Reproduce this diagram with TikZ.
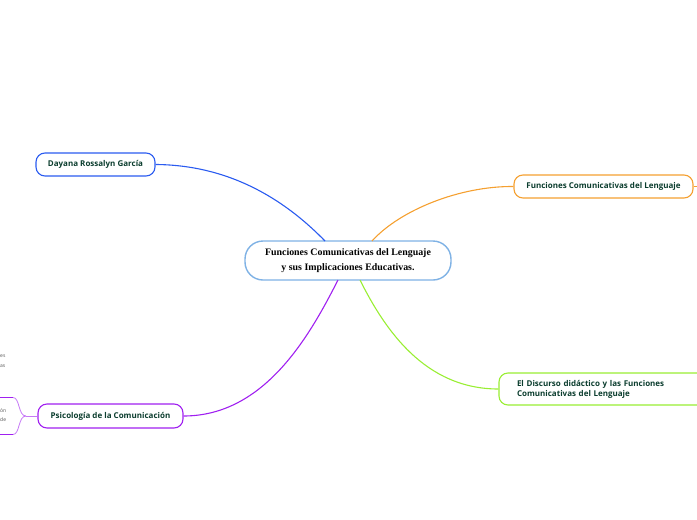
\documentclass[tikz,border=0pt]{standalone}
\usepackage{fontspec}
\setmainfont{Liberation Serif}
\newfontfamily\topicfont{Open Sans}
\definecolor{txt}{HTML}{0B3D2E}
\definecolor{cblue}{HTML}{2A5BF0}
\definecolor{corange}{HTML}{F5A030}
\definecolor{cgreen}{HTML}{99EE33}
\definecolor{cpurple}{HTML}{A020F0}
\definecolor{ccenter}{HTML}{7FB2E5}
\definecolor{cgray}{HTML}{555555}
\begin{document}
\begin{tikzpicture}[x=1pt,y=-1pt,
  topic/.style={draw, line width=1.1pt, rounded corners=9pt, fill=white, inner sep=0pt,
    font=\topicfont\bfseries\fontsize{8}{10}\selectfont, text=txt, align=left},
  conn/.style={line width=1.1pt},
  tinytext/.style={font=\topicfont\fontsize{5}{5}\selectfont, text=cgray, inner sep=0pt, anchor=west}]
\useasboundingbox (0,0) rectangle (697,520);
\clip (0,0) rectangle (697,520);
% nodes
\node[draw=ccenter, line width=1.4pt, rounded corners=18pt, fill=white, minimum width=206pt, minimum height=39pt,
  font=\bfseries\fontsize{9.9}{15}\selectfont, align=center] (center) at (348,260.5)
  {Funciones Comunicativas del Lenguaje\\y sus Implicaciones Educativas.};
\node[topic, draw=cblue, minimum width=119pt, minimum height=23pt] (dayana) at (95.5,164.5) {Dayana Rossalyn García};
\node[topic, draw=corange, minimum width=179pt, minimum height=23pt] (func) at (603.5,186.5) {Funciones Comunicativas del Lenguaje};
\node[topic, draw=cgreen, minimum width=240pt, minimum height=32pt, text width=204pt] (disc) at (619,389)
  {El Discurso didáctico y las Funciones\\Comunicativas del Lenguaje};
\node[topic, draw=cpurple, minimum width=145pt, minimum height=24pt] (psico) at (110.5,416) {Psicología de la Comunicación};
% connectors
\draw[conn, cblue] (dayana.east) .. controls (235,165) and (290,205) .. (325,241);
\draw[conn, corange] (func.west) .. controls (460,186) and (400,210) .. (372,241);
\draw[conn, cgreen] (disc.west) .. controls (425,389) and (385,330) .. (360,280);
\draw[conn, cpurple] (psico.east) .. controls (265,416) and (310,335) .. (338,280);
\draw[conn, corange] (func.east) -- (697,186.5);
% left partial children
\coordinate (split) at (26,416);
\coordinate (ctop) at (13,397.5);
\coordinate (cbot) at (13,434.5);
\draw[cpurple!60, line width=0.8pt] (psico.west) -- (split);
\draw[cpurple!60, line width=0.8pt] (split) .. controls (18,416) and (20,397.5) .. (ctop);
\draw[cpurple!60, line width=0.8pt] (split) .. controls (18,416) and (20,434.5) .. (cbot);
\draw[cpurple, line width=1.1pt] (0,397.5) -- (ctop);
\draw[cpurple, line width=1.1pt] (0,434.5) -- (cbot);
\node[tinytext] (t1) at (0,356) {es};
\node[tinytext] (t2) at (0,366) {as};
\node[tinytext] (t3) at (0,410.5) {ón};
\node[tinytext] (t4) at (0,420) {de};
\end{tikzpicture}
\end{document}
